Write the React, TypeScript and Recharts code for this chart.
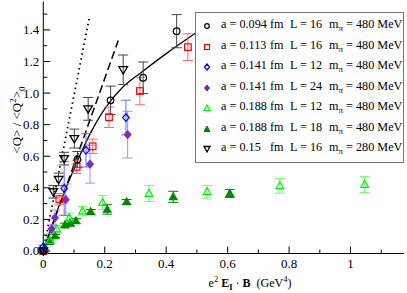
import React from 'react';
import { ComposedChart, Scatter, Line, XAxis, YAxis, ErrorBar } from 'recharts';

// a = 0.094 fm, L = 16 (black circles)
const x094 = [0, 0.111, 0.219, 0.325, 0.434];
const y094 = [0, 0.58, 0.954, 1.097, 1.392];
const e094 = [0.01, 0.05, 0.09, 0.1, 0.105];

// a = 0.113 fm, L = 16 (red squares)
const x113 = [0, 0.052, 0.1086, 0.1606, 0.2137, 0.3145, 0.4706];
const y113 = [0, 0.328, 0.533, 0.663, 0.847, 1.013, 1.291];
const e113 = [0.01, 0.036, 0.042, 0.045, 0.065, 0.087, 0.085];

// a = 0.141 fm, L = 12 (blue diamonds)
const x141a = [0, 0.068, 0.139, 0.269];
const y141a = [0.027, 0.396, 0.638, 0.845];
const e141a = [0.01, 0.17, 0.106, 0.11];

// a = 0.141 fm, L = 24 (violet filled diamonds)
const x141b = [0, 0.027, 0.038, 0.073, 0.152, 0.2745];
const y141b = [0, 0.139, 0.21, 0.324, 0.55, 0.737];
const e141b = [0.01, 0.03, 0.05, 0.1, 0.12, 0.148];

// a = 0.188 fm, L = 12 (light green triangles)
const x188a = [0, 0.022, 0.0435, 0.0846, 0.128, 0.193, 0.344, 0.533, 0.77, 1.046];
const y188a = [0, 0.065, 0.139, 0.21, 0.253, 0.307, 0.364, 0.375, 0.413, 0.421];
const e188a = [0.01, 0.015, 0.02, 0.03, 0.03, 0.045, 0.05, 0.04, 0.047, 0.05];

// a = 0.188 fm, L = 18 (dark green filled triangles)
const x188b = [0, 0.0195, 0.038, 0.0705, 0.087, 0.106, 0.154, 0.208, 0.271, 0.423, 0.607];
const y188b = [0, 0.059, 0.095, 0.164, 0.175, 0.19, 0.248, 0.263, 0.311, 0.343, 0.364];
const e188b = [0.005, 0.01, 0.01, 0.012, 0.015, 0.015, 0.015, 0.03, 0.015, 0.035, 0.025];

// a = 0.15 fm, L = 16, m_pi = 280 MeV (down triangles)
const x150 = [0, 0.0326, 0.05, 0.068, 0.101, 0.146, 0.26];
const y150 = [0, 0.375, 0.453, 0.585, 0.712, 0.9, 1.148];
const e150 = [0.01, 0.04, 0.04, 0.04, 0.06, 0.072, 0.093];

// curves
const fitX = [0, 0.05, 0.111, 0.16, 0.219, 0.26, 0.325, 0.4, 0.5];
const fitY = [0, 0.28, 0.57, 0.77, 0.95, 1.04, 1.14, 1.25, 1.385];
const dashX = [0, 0.244];
const dashY = [0, 1.333];
const dotX = [0, 0.15];
const dotY = [0, 1.48];

const xTicks = [0, 0.1, 0.2, 0.3, 0.4, 0.5, 0.6, 0.7, 0.8, 0.9, 1.0, 1.1];
const xTickLabels = ['0', '', '0.2', '', '0.4', '', '0.6', '', '0.8', '', '1', ''];
const yTicks = [0, 0.1, 0.2, 0.3, 0.4, 0.5, 0.6, 0.7, 0.8, 0.9, 1.0, 1.1, 1.2, 1.3, 1.4, 1.5];
const yTickLabels = ['0.0', '', '0.2', '', '0.4', '', '0.6', '', '0.8', '', '1.0', '', '1.2', '', '1.4', ''];

const legendRows = [
  { a: '0.094', L: '16', m: '480' },
  { a: '0.113', L: '16', m: '480' },
  { a: '0.141', L: '12', m: '480' },
  { a: '0.141', L: '24', m: '480' },
  { a: '0.188', L: '12', m: '480' },
  { a: '0.188', L: '18', m: '480' },
  { a: '0.15', L: '16', m: '280' },
];

const toRows = (xs: number[], ys: number[], es?: number[]) =>
  xs.map((x, i) => ({ x, y: ys[i], e: es ? es[i] : 0 }));

const serif = '"Liberation Serif", "DejaVu Serif", serif';

const circle = (p: any) => <circle cx={p.cx} cy={p.cy} r={3.3} fill="none" stroke="#000" strokeWidth={1.2} />;
const square = (p: any) => (
  <rect x={p.cx - 3.3} y={p.cy - 3.3} width={6.6} height={6.6} fill="none" stroke="#ff0000" strokeWidth={1.2} />
);
const diamond = (color: string, filled: boolean) => (p: any) => (
  <polygon
    points={`${p.cx},${p.cy - 3.8} ${p.cx + 3.3},${p.cy} ${p.cx},${p.cy + 3.8} ${p.cx - 3.3},${p.cy}`}
    fill={filled ? color : 'none'}
    stroke={color}
    strokeWidth={1.2}
  />
);
const triUp = (color: string, filled: boolean) => (p: any) => (
  <polygon
    points={`${p.cx},${p.cy - 4} ${p.cx + 3.8},${p.cy + 2.8} ${p.cx - 3.8},${p.cy + 2.8}`}
    fill={filled ? color : 'none'}
    stroke={color}
    strokeWidth={1.2}
  />
);
const triDown = (p: any) => (
  <polygon
    points={`${p.cx},${p.cy + 4.3} ${p.cx + 4.3},${p.cy - 3} ${p.cx - 4.3},${p.cy - 3}`}
    fill="none"
    stroke="#000"
    strokeWidth={1.3}
  />
);

const tickIndex = (arr: number[], v: number) => arr.findIndex((t) => Math.abs(t - v) < 1e-6);

const BottomTick = (p: any) => {
  const i = tickIndex(xTicks, p.payload.value);
  const lab = xTickLabels[i] || '';
  return (
    <g>
      <line x1={p.x} x2={p.x} y1={p.y} y2={p.y - (lab ? 7 : 4)} stroke="#000" />
      {lab && (
        <text x={p.x} y={p.y + 14} textAnchor="middle" fontSize={13} fontFamily={serif} fill="#000">
          {lab}
        </text>
      )}
    </g>
  );
};
const TopTick = (p: any) => {
  const i = tickIndex(xTicks, p.payload.value);
  const major = !!xTickLabels[i];
  return <line x1={p.x} x2={p.x} y1={p.y} y2={p.y + (major ? 7 : 4)} stroke="#000" />;
};
const LeftTick = (p: any) => {
  const i = tickIndex(yTicks, p.payload.value);
  const lab = yTickLabels[i] || '';
  return (
    <g>
      <line x1={p.x} x2={p.x + (lab ? 7 : 4)} y1={p.y} y2={p.y} stroke="#000" />
      {lab && (
        <text x={p.x - 4} y={p.y + 4.5} textAnchor="end" fontSize={13} fontFamily={serif} fill="#000">
          {lab}
        </text>
      )}
    </g>
  );
};
const RightTick = (p: any) => {
  const i = tickIndex(yTicks, p.payload.value);
  const major = !!yTickLabels[i];
  return <line x1={p.x} x2={p.x - (major ? 7 : 4)} y1={p.y} y2={p.y} stroke="#000" />;
};

const legendMarkers = [
  <circle cx={5} cy={5} r={2.3} fill="none" stroke="#000" strokeWidth={1.2} />,
  <rect x={2.5} y={2.5} width={5} height={5} fill="none" stroke="#ff0000" strokeWidth={1.2} />,
  <polygon points="5,2 7.6,5 5,8 2.4,5" fill="none" stroke="#0000ff" strokeWidth={1.2} />,
  <polygon points="5,2 7.6,5 5,8 2.4,5" fill="#7b2cc0" stroke="#7b2cc0" strokeWidth={1} />,
  <polygon points="5,2 8,7.5 2,7.5" fill="none" stroke="#00ee00" strokeWidth={1.2} />,
  <polygon points="5,2 8,7.5 2,7.5" fill="#008800" stroke="#008800" strokeWidth={1} />,
  <polygon points="5,8 8,2.5 2,2.5" fill="none" stroke="#000" strokeWidth={1.3} />,
];

export default function App() {
  const axisCommon = { tickSize: 0, tickMargin: 0, interval: 0 as const };
  return (
    <div style={{ position: 'absolute', left: 0, top: 0, width: 407, height: 293, background: '#fff', fontFamily: serif }}>
      <ComposedChart width={407} height={293} margin={{ top: 1.5, right: 3, bottom: 0, left: 0 }}>
        <XAxis
          xAxisId="b"
          dataKey="x"
          type="number"
          domain={[0, 1.174]}
          ticks={xTicks}
          height={39.5}
          tick={<BottomTick />}
          stroke="#000"
          {...axisCommon}
        />
        <XAxis
          xAxisId="t"
          orientation="top"
          dataKey="x"
          type="number"
          domain={[0, 1.174]}
          ticks={xTicks}
          height={0}
          tick={<TopTick />}
          stroke="#000"
          {...axisCommon}
        />
        <YAxis
          yAxisId="l"
          type="number"
          domain={[-0.016, 1.58]}
          ticks={yTicks}
          width={43.3}
          tick={<LeftTick />}
          stroke="#000"
          {...axisCommon}
        />
        <YAxis
          yAxisId="r"
          orientation="right"
          type="number"
          domain={[-0.016, 1.58]}
          ticks={yTicks}
          width={0}
          tick={<RightTick />}
          stroke="#000"
          {...axisCommon}
        />

        <Line xAxisId="b" yAxisId="l" data={toRows(dotX, dotY)} dataKey="y" type="linear" stroke="#000" strokeWidth={1.8} strokeDasharray="1.5 3.5" dot={false} isAnimationActive={false} />
        <Line xAxisId="b" yAxisId="l" data={toRows(dashX, dashY)} dataKey="y" type="linear" stroke="#000" strokeWidth={1.5} strokeDasharray="8 4" dot={false} isAnimationActive={false} />
        <Line xAxisId="b" yAxisId="l" data={toRows(fitX, fitY)} dataKey="y" type="monotone" stroke="#000" strokeWidth={1.3} dot={false} isAnimationActive={false} />

        <Scatter xAxisId="b" yAxisId="l" data={toRows(x188b, y188b, e188b)} dataKey="y" shape={triUp('#008800', true)} isAnimationActive={false}>
          <ErrorBar dataKey="e" direction="y" width={5} stroke="#008800" strokeWidth={1} />
        </Scatter>
        <Scatter xAxisId="b" yAxisId="l" data={toRows(x188a, y188a, e188a)} dataKey="y" shape={triUp('#00ee00', false)} isAnimationActive={false}>
          <ErrorBar dataKey="e" direction="y" width={5} stroke="#66ff66" strokeWidth={1} />
        </Scatter>
        <Scatter xAxisId="b" yAxisId="l" data={toRows(x141b, y141b, e141b)} dataKey="y" shape={diamond('#7b2cc0', true)} isAnimationActive={false}>
          <ErrorBar dataKey="e" direction="y" width={5} stroke="#b48ae0" strokeWidth={1} />
        </Scatter>
        <Scatter xAxisId="b" yAxisId="l" data={toRows(x141a, y141a, e141a)} dataKey="y" shape={diamond('#0000ff', false)} isAnimationActive={false}>
          <ErrorBar dataKey="e" direction="y" width={5} stroke="#6a6aff" strokeWidth={1} />
        </Scatter>
        <Scatter xAxisId="b" yAxisId="l" data={toRows(x113, y113, e113)} dataKey="y" shape={square} isAnimationActive={false}>
          <ErrorBar dataKey="e" direction="y" width={5} stroke="#ff6a6a" strokeWidth={1} />
        </Scatter>
        <Scatter xAxisId="b" yAxisId="l" data={toRows(x094, y094, e094)} dataKey="y" shape={circle} isAnimationActive={false}>
          <ErrorBar dataKey="e" direction="y" width={5} stroke="#444" strokeWidth={1} />
        </Scatter>
        <Scatter xAxisId="b" yAxisId="l" data={toRows(x150, y150, e150)} dataKey="y" shape={triDown} isAnimationActive={false}>
          <ErrorBar dataKey="e" direction="y" width={5} stroke="#444" strokeWidth={1} />
        </Scatter>
      </ComposedChart>

      {/* legend */}
      <div
        style={{
          position: 'absolute',
          left: 195,
          top: 12,
          width: 209,
          height: 151,
          boxSizing: 'border-box',
          border: '1.5px solid #777',
          background: '#fff',
          fontSize: 12.2,
          color: '#000',
        }}
      >
        {legendRows.map((r, i) => (
          <div key={i} style={{ position: 'absolute', left: 0, top: 4 + i * 20.5, height: 18, width: 205 }}>
            <svg width={10} height={10} style={{ position: 'absolute', left: 6, top: 4 }}>
              {legendMarkers[i]}
            </svg>
            <span style={{ position: 'absolute', left: 25, top: 0, whiteSpace: 'pre' }}>a = {r.a}</span>
            <span style={{ position: 'absolute', left: 74, top: 0 }}>fm</span>
            <span style={{ position: 'absolute', left: 94, top: 0, whiteSpace: 'pre' }}>L = {r.L}</span>
            <span style={{ position: 'absolute', left: 133, top: 0, whiteSpace: 'pre' }}>
              m<sub style={{ fontSize: 9, verticalAlign: -3 }}>π</sub> = {r.m} MeV
            </span>
          </div>
        ))}
      </div>

      {/* y axis label */}
      <div
        style={{
          position: 'absolute',
          left: 13 - 60,
          top: 120 - 9,
          width: 120,
          height: 18,
          lineHeight: '18px',
          textAlign: 'center',
          fontSize: 13,
          transform: 'rotate(-90deg)',
          whiteSpace: 'pre',
        }}
      >
        {'<Q> / <Q'}
        <sup style={{ fontSize: 9 }}>2</sup>
        {'>'}
        <sub style={{ fontSize: 9 }}>0</sub>
      </div>

      {/* x axis label */}
      <div style={{ position: 'absolute', left: 200, top: 272, width: 100, textAlign: 'center', fontSize: 12, lineHeight: '14px', whiteSpace: 'pre' }}>
        e<sup style={{ fontSize: 8.5 }}>2</sup> <b>E</b>
        <sub style={{ fontSize: 8.5, fontWeight: 'bold' }}>I</sub> · <b>B</b>  (GeV<sup style={{ fontSize: 8.5 }}>4</sup>)
      </div>
    </div>
  );
}
